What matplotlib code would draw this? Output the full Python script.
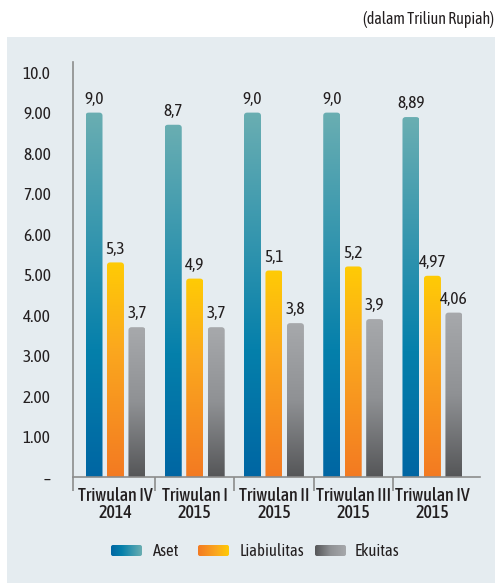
import numpy as np
import matplotlib
matplotlib.use("Agg")
import matplotlib.pyplot as plt
from matplotlib.colors import LinearSegmentedColormap
from matplotlib.patches import FancyBboxPatch, Rectangle

plt.rcParams['font.family'] = ['Asap Condensed', 'DejaVu Sans']

# data
periods = ["Triwulan IV\n2014", "Triwulan I\n2015", "Triwulan II\n2015",
           "Triwulan III\n2015", "Triwulan IV\n2015"]
aset = [9.0, 8.7, 9.0, 9.0, 8.89]
liabilitas = [5.3, 4.9, 5.1, 5.2, 4.97]
ekuitas = [3.7, 3.7, 3.8, 3.9, 4.06]
aset_lbl = ["9,0", "8,7", "9,0", "9,0", "8,89"]
liab_lbl = ["5,3", "4,9", "5,1", "5,2", "4,97"]
ekui_lbl = ["3,7", "3,7", "3,8", "3,9", "4,06"]
series_names = ["Aset", "Liabiulitas", "Ekuitas"]
yticks = [0, 1, 2, 3, 4, 5, 6, 7, 8, 9, 10]
ytick_lbl = ["\u2013", "1.00", "2.00", "3.00", "4.00", "5.00", "6.00",
             "7.00", "8.00", "9.00", "10.0"]

# gradients (bottom -> top)
cmaps = [
    LinearSegmentedColormap.from_list("aset", [(0, "#0066a3"), (0.35, "#0580ab"), (1, "#6aaeb2")]),
    LinearSegmentedColormap.from_list("liab", [(0, "#f37a22"), (0.6, "#fba81e"), (1, "#ffcb05")]),
    LinearSegmentedColormap.from_list("ekui", [(0, "#555658"), (0.5, "#8f9194"), (1, "#a7a9ac")]),
]
txtc = "#231f20"

W, H = 498, 583
fig = plt.figure(figsize=(W / 100, H / 100), dpi=100)

# background layer in pixel coordinates (y measured from bottom)
bg = fig.add_axes([0, 0, 1, 1], zorder=0)
bg.axis("off")
bg.add_patch(Rectangle((7, 0), 488, H - 37, facecolor="#e5ecf0", edgecolor="none", zorder=0))
bg.text(494, H - 20, "(dalam Triliun Rupiah)", ha="right", va="center",
        fontsize=11.5, color=txtc)

# legend
leg_x = [111, 198, 315]
txt_x = [153, 240, 355]
hgrad = np.linspace(0, 1, 256).reshape(1, -1)
for i, name in enumerate(series_names):
    x0, y0 = leg_x[i], H - 556
    clip = FancyBboxPatch((x0, y0), 31, 11, boxstyle="round,pad=0,rounding_size=2",
                          facecolor="none", edgecolor="none")
    bg.add_patch(clip)
    im = bg.imshow(hgrad, cmap=cmaps[i], aspect="auto", origin="lower",
                   extent=(x0, x0 + 31, y0, y0 + 11), zorder=2)
    im.set_clip_path(clip)
    bg.text(txt_x[i], H - 552, name, ha="left", va="center", fontsize=12, color=txtc)
bg.set_xlim(0, W)
bg.set_ylim(0, H)

ax = fig.add_axes([73 / W, (H - 477) / H, (480 - 73) / W, 415 / H], zorder=1)
ax.patch.set_alpha(0)

x = np.arange(len(periods))
bw = 0.2145
off = 0.271
xmin, xmax = -0.536, 4.6

grad = np.linspace(0, 1, 256).reshape(-1, 1)
for i, (vals, lbls) in enumerate([(aset, aset_lbl), (liabilitas, liab_lbl), (ekuitas, ekui_lbl)]):
    xs = x + (i - 1) * off
    bars = ax.bar(xs, vals, width=bw, color="none", edgecolor="none")
    for b, v, t in zip(bars, vals, lbls):
        x0 = b.get_x()
        clip = FancyBboxPatch((x0, -0.5), bw, v + 0.5,
                              boxstyle="round,pad=0,rounding_size=0.04",
                              mutation_aspect=1.95, transform=ax.transData,
                              facecolor="none", edgecolor="none")
        ax.add_patch(clip)
        im = ax.imshow(grad, cmap=cmaps[i], origin="lower", aspect="auto",
                       extent=(x0, x0 + bw, 0, v), zorder=2)
        im.set_clip_path(clip)
        ax.annotate(t, (x0 + bw / 2, v), xytext=(0, 3.5), textcoords="offset points",
                    ha="center", va="bottom", fontsize=12.5, color=txtc)

ax.set_xlim(xmin, xmax)
ax.set_ylim(0, 10.25)

for s in ["top", "right"]:
    ax.spines[s].set_visible(False)
for s in ["left", "bottom"]:
    ax.spines[s].set_color("#8c8c8c")
    ax.spines[s].set_linewidth(1.2)
    ax.spines[s].set_zorder(3)

ax.set_yticks(yticks)
ax.set_yticklabels(ytick_lbl)
ax.tick_params(axis="y", length=0, pad=16, labelsize=12.5, labelcolor=txtc)

ax.set_xticks(x)
ax.set_xticklabels(periods, linespacing=0.95)
ax.tick_params(axis="x", which="major", length=0, pad=7, labelsize=13, labelcolor=txtc)
for lab in ax.get_xticklabels():
    lab.set_fontweight("medium")
ax.set_xticks([xmin, 0.5, 1.5, 2.5, 3.5], minor=True)
ax.tick_params(axis="x", which="minor", length=10, width=1.2, color="#8c8c8c")

fig.savefig("out.png", dpi=100)
